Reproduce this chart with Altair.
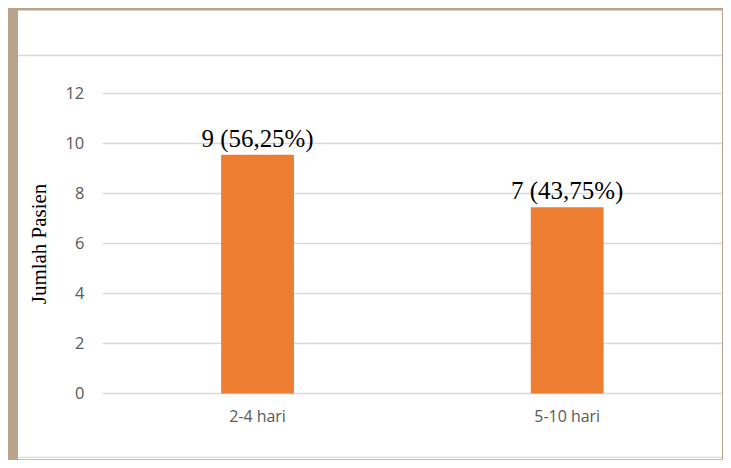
import altair as alt
import pandas as pd

categories = ["2-4 hari", "5-10 hari"]
values = [9.55, 7.45]
labels = ["9 (56,25%)", "7 (43,75%)"]
y_ticks = [0, 2, 4, 6, 8, 10, 12]

W = 621
H = 301
SERIF = "Times New Roman, Liberation Serif, serif"

df = pd.DataFrame({"cat": categories, "val": values, "lab": labels})
grid_df = pd.DataFrame({"t": y_ticks})

xscale = alt.Scale(domain=categories)
yscale = alt.Scale(domain=[0, 12], nice=False)

panel = alt.Chart(alt.Data(values=[{"a": 1}])).mark_rect(
    color="white", clip=False
).encode(
    x=alt.value(-85), x2=alt.value(W), y=alt.value(-83), y2=alt.value(H + 66)
)

top_line = alt.Chart(alt.Data(values=[{"a": 1}])).mark_rule(
    color="#d9d9d9", strokeWidth=1.5, clip=False
).encode(x=alt.value(-85), x2=alt.value(W), y=alt.value(-38))

bottom_line = alt.Chart(alt.Data(values=[{"a": 1}])).mark_rule(
    color="#d9d9d9", strokeWidth=1.5, clip=False
).encode(x=alt.value(-85), x2=alt.value(W), y=alt.value(H + 64))

grid = alt.Chart(grid_df).mark_rule(color="#d9d9d9", strokeWidth=1.5).encode(
    y=alt.Y("t:Q", scale=yscale,
            axis=alt.Axis(values=y_ticks, grid=False, domain=False, ticks=False,
                          tickSize=0, labelPadding=19, labelFont="Open Sans",
                          labelFontSize=16.5, labelColor="#595959",
                          title="Jumlah Pasien", titleFont=SERIF,
                          titleFontSize=21, titleFontWeight="normal",
                          titleColor="black", titlePadding=16, zindex=1))
)

bars = alt.Chart(df).mark_bar(color="#ed7d31", size=73).encode(
    x=alt.X("cat:N", scale=xscale, sort=categories,
            axis=alt.Axis(title=None, domain=False, ticks=False, tickSize=0,
                          labelAngle=0, labelPadding=15, labelFont="Open Sans",
                          labelFontSize=16, labelColor="#595959", grid=False,
                          zindex=1)),
    y=alt.Y("val:Q", scale=yscale),
)

texts = alt.Chart(df).mark_text(
    font=SERIF, fontSize=25, color="black", baseline="alphabetic", dy=-8
).encode(
    x=alt.X("cat:N", scale=xscale, sort=categories),
    y=alt.Y("val:Q", scale=yscale),
    text="lab:N",
)

chart = alt.layer(panel, top_line, bottom_line, grid, bars, texts).properties(
    width=W, height=H, background="#b9a38a",
    padding={"left": 9, "top": 2, "right": 0, "bottom": 0},
).configure_view(stroke=None)

chart.save("out.html", embed_options={"renderer": "svg", "actions": False})
